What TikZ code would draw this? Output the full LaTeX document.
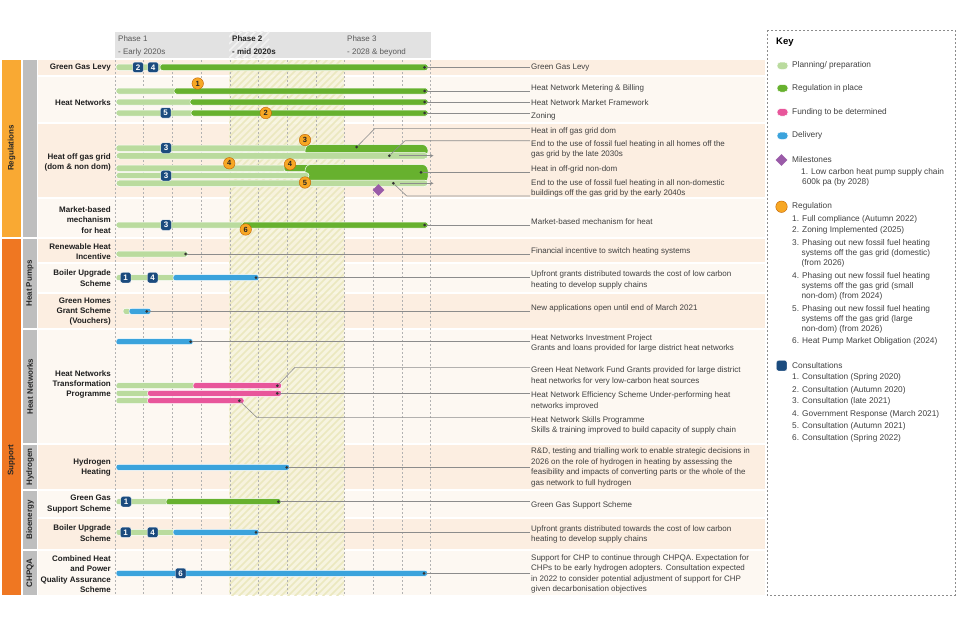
\documentclass[tikz,border=0pt]{standalone}
\usepackage{fontspec}
\setmainfont{Liberation Sans}
\usetikzlibrary{shapes.geometric}
\definecolor{planc}{HTML}{BADB9E}
\definecolor{regc}{HTML}{67B12E}
\definecolor{fundc}{HTML}{E8569B}
\definecolor{delc}{HTML}{3BA3DC}
\definecolor{consc}{HTML}{1B4B7E}
\definecolor{regbc}{HTML}{F7A724}
\definecolor{milec}{HTML}{9A5BA8}
\definecolor{regband}{HTML}{F9A933}
\definecolor{supband}{HTML}{EF7722}
\definecolor{subband}{HTML}{BEBEBE}
\definecolor{rowa}{HTML}{FCEEE1}
\definecolor{rowb}{HTML}{FDF8F2}
\definecolor{hatchc}{HTML}{F6F4DC}
\definecolor{stripec}{HTML}{EBE8BF}
\definecolor{headc}{HTML}{E2E2E2}
\definecolor{txtc}{HTML}{404040}
\definecolor{linec}{HTML}{8C8C8C}
\begin{document}
\begin{tikzpicture}[x=1pt,y=-1pt,
  lbl/.style={anchor=east,align=right,inner sep=1pt,font=\fontsize{8}{10.4}\selectfont\bfseries,text=black!88},
  note/.style={anchor=west,align=left,inner sep=1pt,font=\fontsize{8}{10.4}\selectfont,text=txtc},
  keyt/.style={anchor=west,align=left,inner sep=1pt,font=\fontsize{8.3}{10}\selectfont,text=txtc},
  phase/.style={anchor=west,inner sep=1pt,font=\fontsize{8}{8}\selectfont,text=black!65},
  band/.style={rotate=90,font=\fontsize{8}{8}\selectfont\bfseries,text=black!85},
  plan/.style={fill=planc,draw=white,line width=0.5pt,rounded corners=2.5pt},
  reg/.style={fill=regc,draw=white,line width=0.5pt,rounded corners=2.5pt},
  fund/.style={fill=fundc,draw=white,line width=0.5pt,rounded corners=2.5pt},
  deliv/.style={fill=delc,draw=white,line width=0.5pt,rounded corners=2.5pt},
  cons/.style={fill=consc,draw=white,line width=0.4pt,rounded corners=2pt,minimum size=10.5pt,inner sep=0pt,text=white,font=\fontsize{8}{8}\selectfont\bfseries},
  regb/.style={circle,fill=regbc,draw=orange!75!black,line width=0.4pt,minimum size=11.5pt,inner sep=0pt,text=black!85,font=\fontsize{7.5}{7.5}\selectfont\bfseries},
  dot/.style={circle,fill=black!80,minimum size=3pt,inner sep=0pt},
  mile/.style={diamond,fill=milec,minimum size=12pt,inner sep=0pt},
  conn/.style={draw=linec,line width=0.6pt},
  garrow/.style={draw=linec,line width=0.6pt,->,>=stealth},
  grid/.style={draw=black!30,dashed,dash pattern=on 2pt off 2pt,line width=0.5pt},
  stripe/.style={draw=stripec,line width=1.6pt}]
\useasboundingbox (0,0) rectangle (960,640);
\foreach \ya/\yb/\c in {60/75/rowa,77/122/rowb,124/197/rowa,199/237/rowb,239/262/rowa,264/292/rowb,294/328/rowa,330/443/rowb,445/489/rowa,491/517/rowb,519/549/rowa,551/595/rowb}
  \fill[\c] (38,\ya) rectangle (765,\yb);
\fill[hatchc,fill opacity=0.8] (229,60) rectangle (344,595);
\begin{scope}
\clip (229,60) rectangle (344,595);
\foreach \k in {0,7,...,665} \draw[stripe] (229,60+\k) -- ++(120,-120);
\end{scope}
\foreach \i in {0,...,11} \draw[grid] (115+28.7*\i,60) -- (115+28.7*\i,595);
\fill[headc] (115,31.5) rectangle (431,58);
\begin{scope}
\clip (229,31.5) rectangle (344,58);
\foreach \k in {0,7,...,150} \draw[white!55!headc,line width=1.6pt] (229,30+\k) -- ++(40,-40);
\end{scope}
\node[phase] (ph1) at (117,38.5) {Phase 1};
\node[phase] (ph1b) at (117,52) {- Early 2020s};
\node[phase,font=\fontsize{8}{8}\selectfont\bfseries,text=black!85] (ph2) at (231,38.5) {Phase 2};
\node[phase,font=\fontsize{8}{8}\selectfont\bfseries,text=black!85] (ph2b) at (231,52) {- mid 2020s};
\node[phase] (ph3) at (346,38.5) {Phase 3};
\node[phase] (ph3b) at (346,52) {- 2028 \& beyond};
\fill[regband] (2,60) rectangle (21,237);
\fill[supband] (2,239) rectangle (21,595);
\fill[subband] (23,60) rectangle (37,237);
\foreach \ya/\yb in {239/328,330/443,445/489,491/549,551/595}
  \fill[subband] (23,\ya) rectangle (37,\yb);
\node[band] (bReg) at (11.5,148) {Regulations};
\node[band] (bSup) at (11.5,460) {Support};
\node[band] (bHP) at (30,283.5) {Heat Pumps};
\node[band] (bHN) at (30,386.5) {Heat Networks};
\node[band] (bHy) at (30,467) {Hydrogen};
\node[band] (bBio) at (30,520) {Bioenergy};
\node[band] (bCHP) at (30,573) {CHPQA};
\node[lbl] (lGGL) at (112,67.5) {Green Gas Levy};
\node[lbl] (lHN) at (112,102.5) {Heat Networks};
\node[lbl] (lHOGG) at (112,162.5) {Heat off gas grid\\(dom \& non dom)};
\node[lbl] (lMBM) at (112,220) {Market-based\\mechanism\\for heat};
\node[lbl] (lRHI) at (112,251.5) {Renewable Heat\\Incentive};
\node[lbl] (lBUS) at (112,278) {Boiler Upgrade\\Scheme};
\node[lbl] (lGHGS) at (112,311.5) {Green Homes\\Grant Scheme\\(Vouchers)};
\node[lbl] (lHNTP) at (112,384.5) {Heat Networks\\Transformation\\Programme};
\node[lbl] (lHyd) at (112,467.5) {Hydrogen\\Heating};
\node[lbl] (lGGSS) at (112,504) {Green Gas\\Support Scheme};
\node[lbl] (lBUS2) at (112,533) {Boiler Upgrade\\Scheme};
\node[lbl] (lCHP) at (112,574) {Combined Heat\\and Power\\Quality Assurance\\Scheme};
\path[plan] (116,64) rectangle (163,70.5);
\path[reg] (160,64) rectangle (428,70.5);
\node[cons] (cA2) at (138,67.3) {2};
\node[cons] (cA4) at (153,67.3) {4};
\node[dot] (dA) at (424.5,67.3) {};
\path[plan] (116,88) rectangle (177,94);
\path[reg] (174,88) rectangle (428,94);
\path[plan] (116,99) rectangle (193,105);
\path[reg] (190,99) rectangle (428,105);
\path[plan] (116,110) rectangle (194,116);
\path[reg] (191,110) rectangle (428,116);
\node[regb] (rB1) at (197.7,83.5) {1};
\node[cons] (cB5) at (165.7,112.8) {5};
\node[regb] (rB2) at (265.7,113) {2};
\node[dot] (dB1) at (424.5,91) {};
\node[dot] (dB2) at (424.5,102) {};
\node[dot] (dB3) at (424.5,113) {};
\path[plan] (116,145) rectangle (310,151.5);
\path[reg,rounded corners=6pt] (305,144.5) rectangle (428,157);
\path[plan,rounded corners=3.5pt] (116,152.5) rectangle (428,159);
\path[plan] (116,165) rectangle (288,171.5);
\path[reg] (284,164.5) rectangle (320,171.5);
\path[reg,rounded corners=6pt] (305,164.5) rectangle (428,183);
\path[plan,rounded corners=3pt] (116,172.5) rectangle (309,178.5);
\path[plan,rounded corners=3.5pt] (116,180) rectangle (428,186.5);
\node[regb] (rC3) at (305,140) {3};
\node[cons] (cC3) at (166,148) {3};
\node[regb] (rC4a) at (229.3,163.3) {4};
\node[regb] (rC4b) at (290,164.3) {4};
\node[cons] (cC3b) at (166,175.7) {3};
\node[regb] (rC5) at (305,182.5) {5};
\node[mile] (mC1) at (378.5,190) {};
\node[dot] (dC1) at (356.7,147) {};
\node[dot] (dC2) at (389.3,155.7) {};
\node[dot] (dC3) at (421,172.3) {};
\node[dot] (dC4) at (393.3,183.3) {};
\coordinate (aC2) at (433.5,155.7);
\coordinate (aC4) at (433.5,183.3);
\draw[garrow] (dC2) ++(10,0) -- (aC2);
\draw[garrow] (dC4) ++(7,0) -- (aC4);
\path[plan] (116,222) rectangle (245,228);
\path[reg] (242,222) rectangle (428,228);
\node[cons] (cD3) at (166,225) {3};
\node[regb] (rD6) at (245.7,229.5) {6};
\node[dot] (dD) at (424.5,225) {};
\path[plan] (116,251) rectangle (188,257);
\node[dot] (dE) at (185.7,254) {};
\path[plan] (116,274.7) rectangle (176,280.7);
\path[deliv] (173,274.7) rectangle (259,280.7);
\node[cons] (cF1) at (125.7,277.7) {1};
\node[cons] (cF4) at (152.7,277.7) {4};
\node[dot] (dF) at (256,277.7) {};
\path[plan] (123,308.3) rectangle (131,314.3);
\path[deliv] (129,308.3) rectangle (151,314.3);
\node[dot] (dG) at (146.7,311.3) {};
\path[deliv] (116,338.7) rectangle (193,344.7);
\node[dot] (dH1) at (190.7,341.7) {};
\path[plan] (116,382.7) rectangle (196,388.7);
\path[fund] (193,382.7) rectangle (281.5,388.7);
\path[plan] (116,390.3) rectangle (150,396.3);
\path[fund] (147.5,390.3) rectangle (281.5,396.3);
\path[plan] (116,397.7) rectangle (150,403.7);
\path[fund] (147.5,397.7) rectangle (244,403.7);
\node[dot] (dH2) at (277.3,385.7) {};
\node[dot] (dH3) at (277.3,393.3) {};
\node[dot] (dH4) at (239.3,400.7) {};
\path[deliv] (116,464.3) rectangle (289.5,470.3);
\node[dot] (dI) at (286.7,467.3) {};
\path[plan] (116,498.7) rectangle (169,504.7);
\path[reg] (166,498.7) rectangle (281,504.7);
\node[cons] (cJ1) at (126,501.7) {1};
\node[dot] (dJ) at (278.3,501.7) {};
\path[plan] (116,529.3) rectangle (176,535.3);
\path[deliv] (173,529.3) rectangle (259,535.3);
\node[cons] (cK1) at (125.7,532.3) {1};
\node[cons] (cK4) at (152.7,532.3) {4};
\node[dot] (dK) at (256,532.3) {};
\path[deliv] (116,570.3) rectangle (427.5,576.3);
\node[cons] (cL6) at (180.7,573.3) {6};
\node[dot] (dL) at (424,573.3) {};
\node[note] (tA) at (530,67.5) {Green Gas Levy};
\node[note] (tB1) at (530,88.5) {Heat Network Metering \& Billing};
\node[note] (tB2) at (530,102.3) {Heat Network Market Framework};
\node[note] (tB3) at (530,116.7) {Zoning};
\node[note] (tC1) at (530,131.5) {Heat in off gas grid dom};
\node[note] (tC2) at (530,149.3) {End to the use of fossil fuel heating in all homes off the\\gas grid by the late 2030s};
\node[note] (tC3) at (530,169.3) {Heat in off-grid non-dom};
\node[note] (tC4) at (530,188.5) {End to the use of fossil fuel heating in all non-domestic\\buildings off the gas grid by the early 2040s};
\node[note] (tD) at (530,221.7) {Market-based mechanism for heat};
\node[note] (tE) at (530,251.7) {Financial incentive to switch heating systems};
\node[note] (tF) at (530,280) {Upfront grants distributed towards the cost of low carbon\\heating to develop supply chains};
\node[note] (tG) at (530,308.3) {New applications open until end of March 2021};
\node[note] (tH1) at (530,343.7) {Heat Networks Investment Project\\Grants and loans provided for large district heat networks};
\node[note] (tH2) at (530,376) {Green Heat Network Fund Grants provided for large district\\heat networks for very low-carbon heat sources};
\node[note] (tH3) at (530,401) {Heat Network Efficiency Scheme Under-performing heat\\networks improved};
\node[note] (tH4) at (530,425.5) {Heat Network Skills Programme\\Skills \& training improved to build capacity of supply chain};
\node[note] (tI) at (530,467.5) {R\&D, testing and trialling work to enable strategic decisions in\\2026 on the role of hydrogen in heating by assessing the\\feasibility and impacts of converting parts or the whole of the\\gas network to full hydrogen};
\node[note] (tJ) at (530,505) {Green Gas Support Scheme};
\node[note] (tK) at (530,534.5) {Upfront grants distributed towards the cost of low carbon\\heating to develop supply chains};
\node[note] (tL) at (530,574) {Support for CHP to continue through CHPQA. Expectation for\\CHPs to be early hydrogen adopters. Consultation expected\\in 2022 to consider potential adjustment of support for CHP\\given decarbonisation objectives};
\draw[conn] (dA) -- (dA -| tA.west);
\draw[conn] (dB1) -- (dB1 -| tB1.west);
\draw[conn] (dB2) -- (dB2 -| tB2.west);
\draw[conn] (dB3) -- (dB3 -| tB3.west);
\draw[conn] (dC1) -- ++(18.3,-18.7) coordinate (kC1) -- (kC1 -| tC1.west);
\draw[conn] (dC2) -- ++(15.7,-15) coordinate (kC2) -- (kC2 -| tC2.west);
\draw[conn] (dC3) -- (dC3 -| tC3.west);
\draw[conn] (dC4) -- ++(13.4,12.7) coordinate (kC4) -- (kC4 -| tC4.west);
\draw[conn] (dD) -- (dD -| tD.west);
\draw[conn] (dE) -- (dE -| tE.west);
\draw[conn] (dF) -- (dF -| tF.west);
\draw[conn] (dG) -- (dG -| tG.west);
\draw[conn] (dH1) -- (dH1 -| tH1.west);
\draw[conn] (dH2) -- ++(17.7,-18.4) coordinate (kH2) -- (kH2 -| tH2.west);
\draw[conn] (dH3) -- (dH3 -| tH3.west);
\draw[conn] (dH4) -- ++(17.4,16.6) coordinate (kH4) -- (kH4 -| tH4.west);
\draw[conn] (dI) -- (dI -| tI.west);
\draw[conn] (dJ) -- (dJ -| tJ.west);
\draw[conn] (dK) -- (dK -| tK.west);
\draw[conn] (dL) -- (dL -| tL.west);
\draw[draw=black!45,dashed,dash pattern=on 2pt off 2pt,line width=0.6pt] (767,30) rectangle (955,595);
\node[anchor=west,inner sep=1pt,font=\fontsize{9.5}{9.5}\selectfont\bfseries] (kKey) at (775,42) {Key};
\path[plan,rounded corners=3.5pt] (777,62) rectangle (788,69.5);
\path[reg,rounded corners=3.5pt] (777,84.5) rectangle (788,92);
\path[fund,rounded corners=3.5pt] (777,108.5) rectangle (788,116);
\path[deliv,rounded corners=3.5pt] (777,132) rectangle (788,139.5);
\node[keyt] (kPlan) at (791,65.7) {Planning/ preparation};
\node[keyt] (kReg) at (791,88.3) {Regulation in place};
\node[keyt] (kFund) at (791,112.3) {Funding to be determined};
\node[keyt] (kDel) at (791,135.7) {Delivery};
\node[mile] (kMd) at (781.5,160) {};
\node[keyt] (kM) at (791,160) {Milestones};
\node[keyt] (kM1) at (800,177) {1. Low carbon heat pump supply chain\\\hspace*{1pt}600k pa (by 2028)};
\node[regb] (kRb) at (781.5,206.7) {};
\node[keyt] (kR) at (791,206.7) {Regulation};
\node[keyt] (kR1) at (791,219) {1. Full compliance (Autumn 2022)};
\node[keyt] (kR2) at (791,230.7) {2. Zoning Implemented (2025)};
\node[keyt] (kR3) at (791,253.3) {3. Phasing out new fossil fuel heating\\\hspace*{9.4pt}systems off the gas grid (domestic)\\\hspace*{9.4pt}(from 2026)};
\node[keyt] (kR4) at (791,286.5) {4. Phasing out new fossil fuel heating\\\hspace*{9.4pt}systems off the gas grid (small\\\hspace*{9.4pt}non-dom) (from 2024)};
\node[keyt] (kR5) at (791,319) {5. Phasing out new fossil fuel heating\\\hspace*{9.4pt}systems off the gas grid (large\\\hspace*{9.4pt}non-dom) (from 2026)};
\node[keyt] (kR6) at (791,341) {6. Heat Pump Market Obligation (2024)};
\node[cons] (kCb) at (781.7,365.7) {};
\node[keyt] (kC) at (791,365.7) {Consultations};
\node[keyt] (kC1) at (791,377.7) {1. Consultation (Spring 2020)};
\node[keyt] (kC2) at (791,390) {2. Consultation (Autumn 2020)};
\node[keyt] (kC3) at (791,401.7) {3. Consultation (late 2021)};
\node[keyt] (kC4) at (791,414) {4. Government Response (March 2021)};
\node[keyt] (kC5) at (791,426) {5. Consultation (Autumn 2021)};
\node[keyt] (kC6) at (791,438.3) {6. Consultation (Spring 2022)};
\end{tikzpicture}
\end{document}
